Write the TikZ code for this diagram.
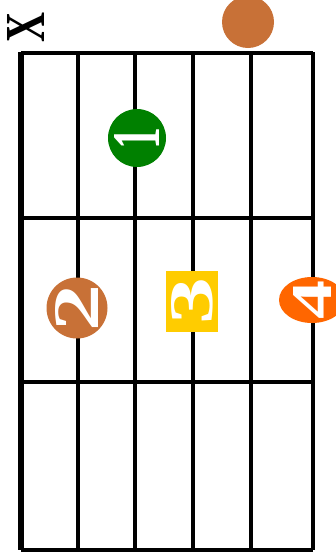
\documentclass[tikz,border=0pt]{standalone}
\usepackage{graphicx}
\usepackage{fontspec}
\setmainfont{Liberation Serif}
\usepackage{tikz}
\usetikzlibrary{shapes.geometric}

\definecolor{dotbrown}{HTML}{C87137}
\definecolor{dotgreen}{HTML}{008000}
\definecolor{dotyellow}{HTML}{FFCC00}
\definecolor{dotorange}{HTML}{FF6600}

\begin{document}
\begin{tikzpicture}[x=1pt, y=-1pt,
  fingerdot/.style={circle, inner sep=0pt, minimum size=#1},
  fingernum/.style={inner sep=0pt, text=white, rotate=90, font=\bfseries}]
\useasboundingbox (0,0) rectangle (336,552);
% strings
\draw[line width=5.5pt] (21,52) -- (21,550);
\foreach \x in {78,135,193,251,313}
  \draw[line width=3.4pt] (\x,52) -- (\x,550);
% frets
\foreach \y in {53,218,382,550}
  \draw[line width=3.2pt] (21,\y) -- (313,\y);
% muted and open strings
\node[inner sep=0pt, rotate=90, font=\bfseries] (mute6) at (26,27) {\resizebox{30pt}{37pt}{X}};
\fill[dotbrown] (248,22) circle (26) node (open1) {};
% fingers
\node[fingerdot=58pt, fill=dotgreen] (f1) at (137,138) {};
\node[fingernum] (n1) at (f1) {\resizebox{22pt}{45pt}{1}};
\node[fingerdot=61pt, fill=dotbrown] (f2) at (77,308) {};
\node[fingernum] (n2) at (f2) {\resizebox{47pt}{43pt}{2}};
\node[rectangle, inner sep=0pt, minimum width=52pt, minimum height=61pt, fill=dotyellow] (f3) at (192,301) {};
\node[fingernum] (n3) at (f3) {\resizebox{47pt}{41pt}{3}};
\node[ellipse, inner sep=0pt, minimum width=66pt, minimum height=46pt, fill=dotorange] (f4) at (312,300) {};
\node[fingernum] (n4) at (f4) {\resizebox{39pt}{38pt}{4}};
\end{tikzpicture}
\end{document}
